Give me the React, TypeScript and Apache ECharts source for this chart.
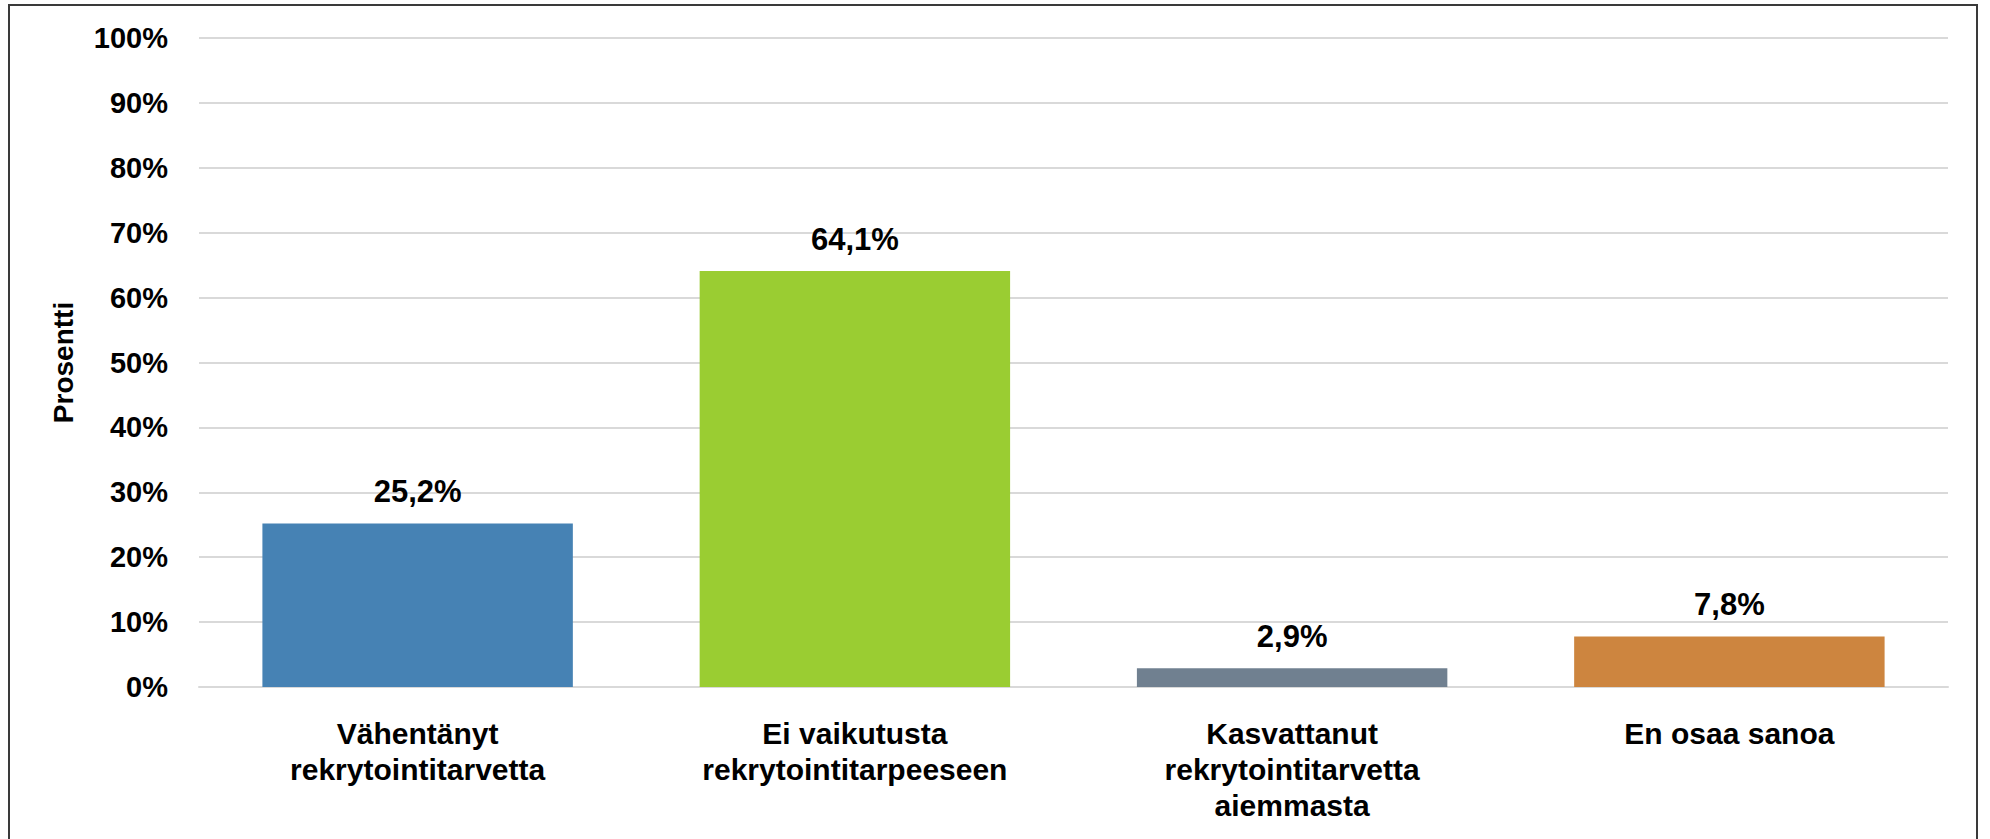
import React, { useEffect, useRef } from "react";
import * as echarts from "echarts";

const categories = [
  "Vähentänyt\nrekrytointitarvetta",
  "Ei vaikutusta\nrekrytointitarpeeseen",
  "Kasvattanut\nrekrytointitarvetta\naiemmasta",
  "En osaa sanoa",
];
const values = [25.2, 64.1, 2.9, 7.8];
const barColors = ["#4682B4", "#9ACD32", "#708090", "#CD853F"];
const yAxisName = "Prosentti";

const FONT = "'Liberation Sans', Arial, sans-serif";

export default function App() {
  const ref = useRef<HTMLDivElement>(null);
  useEffect(() => {
    if (!ref.current) return;
    const chart = echarts.init(ref.current, null, { renderer: "svg" });
    chart.setOption({
      animation: false,
      backgroundColor: "#ffffff",
      textStyle: { fontFamily: FONT },
      graphic: [
        {
          type: "rect",
          shape: { x: 9, y: 5, width: 1968, height: 900 },
          style: { fill: "none", stroke: "#3a3a3a", lineWidth: 2 },
          silent: true,
          z: 100,
        },
      ],
      grid: { left: 199, right: 42, top: 38, bottom: 152 },
      xAxis: {
        type: "category",
        data: categories,
        axisLine: { show: true, lineStyle: { color: "#d9d9d9", width: 2 } },
        axisTick: { show: false },
        axisLabel: {
          color: "#000",
          fontWeight: "bold",
          fontSize: 30,
          lineHeight: 36,
          margin: 28,
          fontFamily: FONT,
          interval: 0,
        },
      },
      yAxis: {
        type: "value",
        min: 0,
        max: 100,
        interval: 10,
        name: yAxisName,
        nameLocation: "middle",
        nameRotate: 90,
        nameGap: 122,
        nameTextStyle: { color: "#000", fontWeight: "bold", fontSize: 28, fontFamily: FONT },
        axisLine: { show: false },
        axisTick: { show: false },
        splitLine: { lineStyle: { color: "#d9d9d9", width: 2 } },
        axisLabel: {
          formatter: "{value}%",
          color: "#000",
          fontWeight: "bold",
          fontSize: 29,
          margin: 31,
          fontFamily: FONT,
        },
      },
      series: [
        {
          type: "bar",
          data: values.map((v, i) => ({ value: v, itemStyle: { color: barColors[i] } })),
          barCategoryGap: "29%",
          label: {
            show: true,
            position: "top",
            distance: 16,
            color: "#000",
            fontWeight: "bold",
            fontSize: 31,
            fontFamily: FONT,
            formatter: (p: any) => p.value.toFixed(1).replace(".", ",") + "%",
          },
        },
      ],
    });
    return () => chart.dispose();
  }, []);
  return (
    <div
      ref={ref}
      style={{ position: "fixed", left: 0, top: 0, width: 1990, height: 839 }}
    />
  );
}
